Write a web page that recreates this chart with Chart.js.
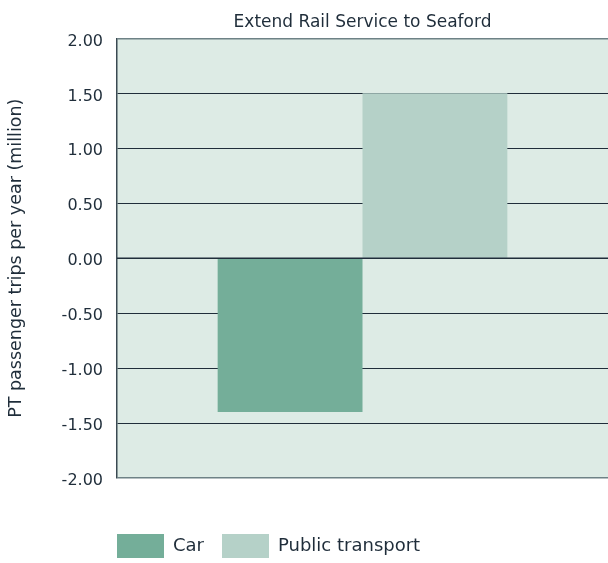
<!DOCTYPE html>
<html>
<head>
<meta charset="utf-8">
<script src="https://cdn.jsdelivr.net/npm/chart.js@4/dist/chart.umd.min.js"></script>
<style>
  html, body { margin: 0; padding: 0; background: #fff; }
  #wrap { width: 608px; height: 563px; }
</style>
</head>
<body>
<div id="wrap"><canvas id="bar"></canvas></div>
<script>
var categories = [''];
var seriesNames = ['Car', 'Public transport'];
var carValues = [-1.40];
var publicTransportValues = [1.50];
var yTicks = [-2.00, -1.50, -1.00, -0.50, 0.00, 0.50, 1.00, 1.50, 2.00];

var textColor = '#1f2d3a';
var fontFamily = '"DejaVu Sans", sans-serif';

// light green plot background + zero line on top of the bars
var plotExtras = {
    id: 'plotExtras',
    afterLayout: function(chart) {
        // nudge legend to sit under the left edge of the plot
        var lg = chart.legend;
        lg.left -= 18; lg.right -= 18;
        lg.top += 5; lg.bottom += 5;
    },
    beforeDatasetsDraw: function(chart) {
        var a = chart.chartArea, c = chart.ctx;
        c.save();
        c.fillStyle = '#ddebe5';
        c.globalCompositeOperation = 'destination-over';
        c.fillRect(a.left, a.top, a.right - a.left, a.bottom - a.top);
        c.restore();
    },
    afterDatasetsDraw: function(chart) {
        var a = chart.chartArea, c = chart.ctx;
        var y = chart.scales.y.getPixelForValue(0);
        c.save();
        c.strokeStyle = '#1f2d3a';
        c.lineWidth = 1.5;
        c.beginPath();
        c.moveTo(a.left, y);
        c.lineTo(a.right, y);
        c.stroke();
        c.restore();
    }
};

var ctx = document.getElementById('bar').getContext('2d');
var chart = new Chart(ctx, {
    type: 'bar',
    data: {
        labels: categories,
        datasets: [{
            label: seriesNames[0],
            backgroundColor: '#74ae99',
            data: carValues
        }, {
            label: seriesNames[1],
            backgroundColor: '#b5d1c8',
            data: publicTransportValues
        }]
    },
    options: {
        responsive: true,
        maintainAspectRatio: false,
        animation: false,
        categoryPercentage: 0.59,
        barPercentage: 1.0,
        layout: { padding: { left: 0, right: 0, top: 0, bottom: 0 } },
        scales: {
            x: {
                display: true,
                grid: { display: false, drawTicks: false },
                border: { display: false },
                ticks: { display: false },
                afterFit: function(axis) { axis.height = 33; }
            },
            y: {
                min: yTicks[0],
                max: yTicks[yTicks.length - 1],
                afterBuildTicks: function(axis) {
                    axis.ticks = yTicks.map(function(v) { return { value: v }; });
                },
                afterFit: function(axis) { axis.width = 117; },
                ticks: {
                    color: textColor,
                    padding: 14,
                    labelOffset: 3,
                    font: { family: fontFamily, size: 16 },
                    callback: function(v) { return Number(v).toFixed(2); }
                },
                grid: {
                    drawTicks: false,
                    color: function(c) {
                        var v = c.tick ? c.tick.value : 0;
                        return (v === 2 || v === -2) ? '#6e8286' : '#1f2d3a';
                    },
                    lineWidth: function(c) {
                        var v = c.tick ? c.tick.value : 0;
                        return (v === 2 || v === -2) ? 1.5 : 1;
                    }
                },
                border: { color: '#3a4a52', width: 1.5 },
                title: {
                    display: true,
                    text: 'PT passenger trips per year (million)',
                    color: textColor,
                    font: { family: fontFamily, size: 17.5 },
                    padding: { top: 6, bottom: 4 }
                }
            }
        },
        plugins: {
            title: {
                display: true,
                text: 'Extend Rail Service to Seaford',
                color: textColor,
                fullSize: false,
                font: { family: fontFamily, size: 17, weight: 'normal' },
                padding: { top: 12, bottom: 6 }
            },
            legend: {
                position: 'bottom',
                align: 'start',
                fullSize: false,
                labels: {
                    color: textColor,
                    boxWidth: 47,
                    boxHeight: 24,
                    padding: 18,
                    font: { family: fontFamily, size: 18 }
                }
            },
            tooltip: { enabled: false }
        }
    },
    plugins: [plotExtras]
});
</script>
</body>
</html>
